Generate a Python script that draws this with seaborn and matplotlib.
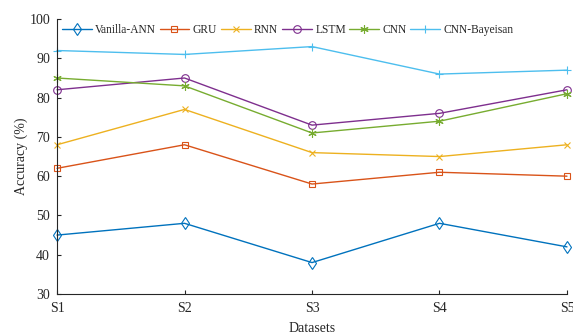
import matplotlib
matplotlib.use("Agg")
import matplotlib.pyplot as plt
import seaborn as sns
import pandas as pd

datasets = ["S1", "S2", "S3", "S4", "S5"]
vanilla_ann = [45, 48, 38, 48, 42]
gru = [62, 68, 58, 61, 60]
rnn = [68, 77, 66, 65, 68]
lstm = [82, 85, 73, 76, 82]
cnn = [85, 83, 71, 74, 81]
cnn_bayes = [92, 91, 93, 86, 87]

series = [
    ("Vanilla-ANN", vanilla_ann, "#0072BD", "d", 6),
    ("GRU", gru, "#D95319", "s", 5),
    ("RNN", rnn, "#EDB120", "x", 5),
    ("LSTM", lstm, "#7E2F8E", "o", 5.5),
    ("CNN", cnn, "#77AC30", (6, 2, 0), 6),
    ("CNN-Bayeisan", cnn_bayes, "#4DBEEE", "+", 6),
]

sns.set_theme(style="ticks")
plt.rcParams["font.family"] = ["Liberation Serif", "DejaVu Serif"]

fig = plt.figure(figsize=(5.73, 3.35), dpi=100)
ax = fig.add_axes([0.0995, 0.1224, 0.8900, 0.8206])

x = list(range(len(datasets)))
for name, vals, col, mk, ms in series:
    df = pd.DataFrame({"x": x, "y": vals})
    sns.lineplot(data=df, x="x", y="y", ax=ax, color=col, marker=mk,
                 markersize=ms, markerfacecolor="none", markeredgecolor=col,
                 markeredgewidth=0.8, linewidth=1.0, label=name, clip_on=False)

ax.set_xlim(0, 4)
ax.set_ylim(30, 100)
ax.set_xticks(x)
ax.set_xticklabels(datasets)
ax.set_yticks(range(30, 101, 10))
ax.tick_params(direction="in", length=3, width=0.8, labelsize=10, colors="#262626")
ax.tick_params(axis="x", pad=6)
ax.tick_params(axis="y", pad=5)
for s in ["top", "right"]:
    ax.spines[s].set_visible(False)
for s in ["left", "bottom"]:
    ax.spines[s].set_color("#262626")
    ax.spines[s].set_linewidth(0.8)
ax.set_xlabel("Datasets", fontsize=10, color="#262626", labelpad=5)
ax.set_ylabel("Accuracy (%)", fontsize=10, color="#262626", labelpad=1)

leg = ax.legend(loc="upper left", bbox_to_anchor=(0.0, 1.0), ncol=6, frameon=False,
                fontsize=8.3, handlelength=2.6, columnspacing=0.3, handletextpad=0.3,
                borderaxespad=0.1, borderpad=0.3)
for t in leg.get_texts():
    t.set_color("#262626")

fig.savefig("out.png", dpi=100)
